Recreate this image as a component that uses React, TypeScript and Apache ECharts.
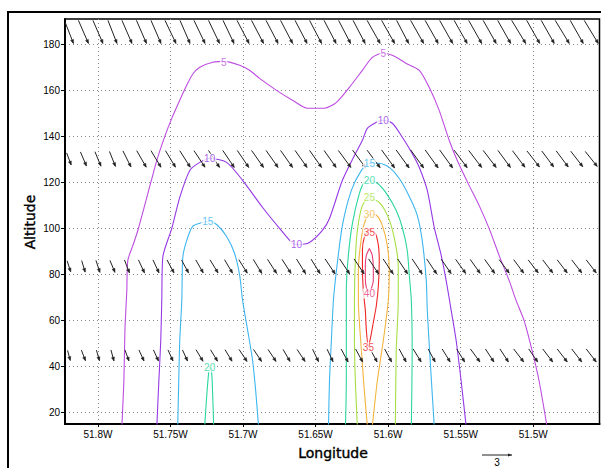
import { useEffect, useRef } from "react";
import * as echarts from "echarts";

// Axis ticks
const LON_TICKS = [-51.8, -51.75, -51.7, -51.65, -51.6, -51.55, -51.5];
const ALT_TICKS = [20, 40, 60, 80, 100, 120, 140, 160, 180];

// Contour lines, [longitude, altitude]
const C5 = [
  [-51.7835, 14], [-51.7821, 33.9], [-51.7814, 55.7], [-51.7801, 73], [-51.7794, 86.1],
  [-51.7759, 92.6], [-51.7725, 99.1], [-51.7663, 113.5], [-51.7594, 129.6], [-51.7539, 140],
  [-51.7491, 147.8], [-51.7436, 155.7], [-51.7388, 162.2], [-51.7347, 167], [-51.7298, 170],
  [-51.7209, 172.2], [-51.7127, 172.6], [-51.7023, 170.9], [-51.6955, 168.7], [-51.6886, 165.2],
  [-51.6769, 160], [-51.6659, 155.7], [-51.6556, 152.2], [-51.6439, 152.2], [-51.6356, 154.8],
  [-51.6267, 161.3], [-51.6177, 168.7], [-51.6109, 174.3], [-51.604, 176.1], [-51.5971, 175.2],
  [-51.5875, 171.7], [-51.5785, 168.7], [-51.5717, 161.3], [-51.5648, 151.3], [-51.5579, 138.3],
  [-51.5524, 129.6], [-51.5442, 118.7], [-51.5373, 110], [-51.5304, 100], [-51.5235, 88.3],
  [-51.5166, 77.4], [-51.5118, 68.7], [-51.5063, 60], [-51.5008, 47], [-51.496, 33.9],
  [-51.4905, 14],
];
const C10 = [
  [-51.7594, 14], [-51.758, 33.9], [-51.7567, 51.3], [-51.756, 68.7], [-51.7553, 87.4],
  [-51.7491, 100], [-51.7436, 113.5], [-51.7367, 125.2], [-51.7298, 128.7], [-51.723, 130.4],
  [-51.7113, 128.7], [-51.7003, 120.9], [-51.6865, 109.1], [-51.6748, 100], [-51.6659, 93.5],
  [-51.6624, 93], [-51.6542, 93.9], [-51.6453, 99.1], [-51.6404, 104.3], [-51.6315, 120.9],
  [-51.6232, 131.7], [-51.6177, 138.3], [-51.6143, 143.5], [-51.6081, 146.1], [-51.604, 147],
  [-51.5971, 145.7], [-51.5902, 139.6], [-51.5834, 132.6], [-51.5785, 126.5], [-51.573, 116.5],
  [-51.5682, 100.4], [-51.5634, 88.3], [-51.56, 77.4], [-51.5565, 64.3], [-51.5531, 51.3],
  [-51.5497, 33.9], [-51.5462, 14],
];
const C15_WEST = [
  [-51.745, 14], [-51.7443, 33.9], [-51.7436, 51.3], [-51.7422, 68.7], [-51.7415, 87.4],
  [-51.7388, 94.8], [-51.7347, 100.9], [-51.7278, 102.6], [-51.723, 103], [-51.7182, 101.7],
  [-51.7113, 96.5], [-51.7058, 89.1], [-51.7023, 79.6], [-51.7003, 68.7], [-51.6968, 55.7],
  [-51.6934, 42.6], [-51.6913, 29.6], [-51.6893, 14],
];
const C15_EAST = [
  [-51.6411, 14], [-51.6404, 33.9], [-51.6391, 51.3], [-51.6377, 68.7], [-51.6356, 81.7],
  [-51.6315, 101.3], [-51.6253, 116.5], [-51.6184, 125.2], [-51.6129, 128.3], [-51.6061, 128.3],
  [-51.5992, 126.5], [-51.5923, 121.7], [-51.5854, 113.9], [-51.5799, 105.7], [-51.5765, 94.8],
  [-51.5737, 77.4], [-51.573, 64.3], [-51.571, 42.6], [-51.5682, 14],
];
const C20_WEST = [
  [-51.7264, 14], [-51.725, 27.4], [-51.7237, 37], [-51.723, 39.6], [-51.7216, 37],
  [-51.7209, 27.4], [-51.7202, 14],
];
const C20_EAST = [
  [-51.6294, 14], [-51.6288, 33.9], [-51.6288, 55.7], [-51.6288, 73], [-51.6274, 88.3],
  [-51.6246, 102.2], [-51.6198, 115.2], [-51.6164, 120], [-51.6129, 120.9], [-51.6074, 119.6],
  [-51.6012, 115.2], [-51.5944, 107.8], [-51.5902, 100.4], [-51.5868, 90.4], [-51.5854, 79.6],
  [-51.584, 68.7], [-51.5834, 47], [-51.584, 14],
];
const C25 = [
  [-51.6212, 14], [-51.6226, 33.9], [-51.6232, 51.3], [-51.6232, 68.7], [-51.6226, 86.1],
  [-51.6212, 99.1], [-51.6177, 110], [-51.6129, 113], [-51.6061, 111.3], [-51.5999, 104.8],
  [-51.5957, 95.7], [-51.593, 83.9], [-51.593, 68.7], [-51.5944, 47], [-51.595, 14],
];
const C30 = [
  [-51.6143, 14], [-51.6164, 29.6], [-51.6184, 47], [-51.6205, 68.7], [-51.6205, 81.7],
  [-51.6191, 92.6], [-51.6164, 102.2], [-51.6129, 106.1], [-51.6081, 105.7], [-51.604, 101.3],
  [-51.6006, 92.6], [-51.5992, 81.7], [-51.5999, 68.7], [-51.6033, 51.3], [-51.6074, 33.9],
  [-51.6109, 14],
];
const C35 = [
  [-51.6129, 99.6], [-51.6088, 97.8], [-51.6067, 92.6], [-51.6061, 86.1], [-51.6067, 75.2],
  [-51.6081, 66.5], [-51.6102, 59.1], [-51.6122, 52.2], [-51.6136, 48.7], [-51.615, 55.7],
  [-51.6157, 64.3], [-51.6171, 73], [-51.6177, 83.9], [-51.6177, 90.4], [-51.6164, 96.1],
  [-51.6129, 99.6],
];
const C40 = [
  [-51.6129, 91.3], [-51.6109, 88.3], [-51.6102, 82.6], [-51.6102, 77.4], [-51.6116, 73.9],
  [-51.6129, 72.6], [-51.615, 74.3], [-51.6157, 78.3], [-51.6157, 83.9], [-51.615, 88.3],
  [-51.6129, 91.3],
];

// Contour labels: [text, longitude, altitude]
const CONTOUR_LABELS: [string, number, number][] = [
  ["5", -51.7133, 172.2], ["5", -51.6033, 176.1],
  ["10", -51.723, 130.4], ["10", -51.6631, 93], ["10", -51.6033, 147],
  ["15", -51.7243, 103], ["15", -51.6129, 128.3],
  ["20", -51.723, 39.6], ["20", -51.6129, 120.9],
  ["25", -51.6129, 113.5],
  ["30", -51.6129, 106.1],
  ["35", -51.6129, 98.3], ["35", -51.6136, 48.3],
  ["40", -51.6129, 71.7],
];

// Wind vectors: columns, row altitudes and components per row
const WIND_LONS = [
  -51.82, -51.81, -51.8, -51.79, -51.78, -51.77, -51.76, -51.75, -51.74, -51.73,
  -51.72, -51.71, -51.7, -51.69, -51.68, -51.67, -51.66, -51.65, -51.64, -51.63,
  -51.62, -51.61, -51.6, -51.59, -51.58, -51.57, -51.56, -51.55, -51.54, -51.53,
  -51.52, -51.51, -51.5, -51.49, -51.48, -51.47, -51.46,
];
const ROW_ALTS = [185.4, 130.2, 83.5, 44.8];
const U_ROWS = [
  [0.9, 1.0, 1.0, 0.9, 1.0, 1.0, 1.0, 1.1, 1.0, 1.1, 1.1, 1.1, 1.2, 1.2, 1.2, 1.2, 1.2, 1.2, 1.2,
   1.2, 1.2, 1.3, 1.3, 1.2, 1.3, 1.3, 1.3, 1.3, 1.3, 1.3, 1.3, 1.4, 1.3, 1.3, 1.4, 1.3, 1.4],
  [0.45, 0.6, 0.6, 0.6, 0.8, 0.95, 1.0, 1.0, 1.05, 1.1, 1.1, 1.15, 1.15, 1.2, 1.2, 1.2, 1.2, 1.2,
   1.2, 1.25, 1.3, 1.3, 1.3, 1.3, 1.3, 1.3, 1.3, 1.3, 1.3, 1.3, 1.25, 1.25, 1.25, 1.2, 1.2, 1.2, 1.2],
  [0.35, 0.35, 0.4, 0.5, 0.5, 0.6, 0.6, 0.7, 0.7, 0.75, 0.8, 0.8, 0.85, 0.85, 0.9, 0.9, 0.9, 0.9,
   1.0, 1.0, 1.0, 1.0, 1.0, 1.0, 1.0, 1.0, 1.0, 1.0, 1.0, 1.0, 1.0, 1.0, 1.0, 1.0, 1.0, 1.0, 1.0],
  [0.27, 0.4, 0.3, 0.3, 0.4, 0.5, 0.5, 0.5, 0.5, 0.7, 0.7, 0.7, 0.8, 0.8, 0.8, 0.7, 0.8, 0.6, 0.6,
   0.7, 0.7, 0.7, 0.7, 0.7, 0.8, 0.7, 0.8, 0.8, 0.95, 0.85, 0.85, 1.0, 0.9, 1.0, 1.0, 1.0, 1.0],
];
const W_ROWS = [
  [-2.3, -2.3, -2.3, -2.3, -2.3, -2.3, -2.3, -2.3, -2.3, -2.3, -2.3, -2.3, -2.3, -2.3, -2.3, -2.3,
   -2.3, -2.3, -2.3, -2.3, -2.3, -2.3, -2.3, -2.3, -2.3, -2.3, -2.3, -2.3, -2.3, -2.3, -2.3, -2.3,
   -2.3, -2.3, -2.3, -2.3, -2.3],
  [-1.2, -1.4, -1.45, -1.5, -1.6, -1.65, -1.65, -1.65, -1.65, -1.65, -1.7, -1.7, -1.7, -1.7, -1.7,
   -1.7, -1.7, -1.7, -1.7, -1.7, -1.75, -1.75, -1.8, -1.8, -1.8, -1.8, -1.8, -1.75, -1.7, -1.7,
   -1.7, -1.65, -1.6, -1.6, -1.6, -1.55, -1.5],
  [-1.1, -1.15, -1.2, -1.2, -1.3, -1.3, -1.3, -1.3, -1.3, -1.3, -1.3, -1.35, -1.35, -1.4, -1.4,
   -1.4, -1.45, -1.45, -1.5, -1.5, -1.5, -1.5, -1.5, -1.5, -1.5, -1.5, -1.45, -1.4, -1.4, -1.4,
   -1.35, -1.35, -1.3, -1.3, -1.3, -1.3, -1.3],
  [-1.0, -1.05, -1.05, -1.1, -1.1, -1.1, -1.1, -1.1, -1.1, -1.15, -1.15, -1.15, -1.2, -1.2, -1.2,
   -1.2, -1.2, -1.25, -1.25, -1.3, -1.3, -1.3, -1.3, -1.3, -1.3, -1.3, -1.3, -1.3, -1.3, -1.3,
   -1.3, -1.3, -1.3, -1.3, -1.3, -1.3, -1.3],
];
const REF_VECTOR = 3;

const LEVEL_COLORS: Record<string, string> = {
  "5": "#bd4ce0",
  "10": "#9538e6",
  "15": "#3db6f0",
  "20": "#2ad6a0",
  "25": "#a6e044",
  "30": "#f3b43e",
  "35": "#f02626",
  "40": "#e8407a",
};

const CONTOURS: [string, number[][]][] = [
  ["5", C5], ["10", C10], ["15", C15_WEST], ["15", C15_EAST], ["20", C20_WEST],
  ["20", C20_EAST], ["25", C25], ["30", C30], ["35", C35], ["40", C40],
];

const PX_PER_UNIT = 10;
const FONT = "'Liberation Sans', Arial, sans-serif";
const TITLE_FONT = "'DejaVu Sans', sans-serif";

function buildOption() {
  const windData: number[][] = [];
  ROW_ALTS.forEach((alt, r) => {
    WIND_LONS.forEach((lon, i) => windData.push([lon, alt, U_ROWS[r][i], W_ROWS[r][i]]));
  });

  const contourSeries = CONTOURS.map(([level, pts]) => ({
    type: "line",
    data: pts,
    symbol: "none",
    smooth: 0.25,
    lineStyle: { color: LEVEL_COLORS[level], width: 1.1 },
    z: 3,
    silent: true,
  }));

  const labelSeries = {
    type: "scatter",
    symbolSize: 1,
    itemStyle: { color: "rgba(0,0,0,0)" },
    z: 5,
    silent: true,
    data: CONTOUR_LABELS.map(([t, lon, alt]) => ({
      name: t,
      value: [lon, alt],
      label: {
        show: true,
        position: "inside",
        formatter: "{b}",
        color: LEVEL_COLORS[t],
        fontSize: 10,
        fontFamily: FONT,
        backgroundColor: "#fff",
        padding: [0, 1],
      },
    })),
  };

  const windSeries = {
    type: "custom",
    z: 4,
    silent: true,
    clip: true,
    data: windData,
    renderItem: (_params: any, api: any) => {
      const c = api.coord([api.value(0), api.value(1)]);
      const dx = api.value(2) * PX_PER_UNIT;
      const dy = -api.value(3) * PX_PER_UNIT;
      const x1 = c[0] - dx / 2, y1 = c[1] - dy / 2;
      const x2 = c[0] + dx / 2, y2 = c[1] + dy / 2;
      const a = Math.atan2(dy, dx);
      const hl = 4, hs = 0.4;
      return {
        type: "group",
        children: [
          { type: "line", shape: { x1, y1, x2, y2 }, style: { stroke: "#222", lineWidth: 1 } },
          {
            type: "polygon",
            shape: {
              points: [
                [x2, y2],
                [x2 - hl * Math.cos(a - hs), y2 - hl * Math.sin(a - hs)],
                [x2 - hl * Math.cos(a + hs), y2 - hl * Math.sin(a + hs)],
              ],
            },
            style: { fill: "#222", stroke: "#222", lineWidth: 0.5 },
          },
        ],
      };
    },
  };

  const refLen = REF_VECTOR * PX_PER_UNIT;
  const refX = 482, refY = 455;

  return {
    animation: false,
    backgroundColor: "#fff",
    grid: {
      left: 65, right: 1.5, top: 19, bottom: 44,
      show: true, borderColor: "#000", borderWidth: 1.5, backgroundColor: "#fff",
    },
    xAxis: {
      type: "value",
      min: -51.8227,
      max: -51.4543,
      axisLine: { show: true, onZero: false, lineStyle: { color: "#000", width: 2 } },
      axisTick: { show: true, customValues: LON_TICKS, length: 3, lineStyle: { color: "#000" } },
      axisLabel: {
        customValues: LON_TICKS,
        formatter: (v: number) => `${Number(Math.abs(v).toFixed(2))}W`,
        color: "#000", fontSize: 10, fontFamily: FONT, margin: 5,
      },
      splitLine: { show: true, lineStyle: { color: "#888", type: [1, 3], width: 1 } },
    },
    yAxis: {
      type: "value",
      min: 15,
      max: 191,
      axisLine: { show: true, onZero: false, lineStyle: { color: "#000", width: 2 } },
      axisTick: { show: true, customValues: ALT_TICKS, length: 4, lineStyle: { color: "#000" } },
      axisLabel: {
        customValues: ALT_TICKS,
        color: "#000", fontSize: 10, fontFamily: FONT, margin: 5,
      },
      splitLine: { show: true, lineStyle: { color: "#888", type: [1, 3], width: 1 } },
    },
    graphic: [
      {
        type: "rect",
        shape: { x: 8, y: 12, width: 700, height: 600 },
        style: { fill: "none", stroke: "#000", lineWidth: 2 },
        silent: true,
      },
      {
        type: "text",
        x: 30, y: 222, rotation: Math.PI / 2,
        style: {
          text: "Altitude", fill: "#000", stroke: "#000", lineWidth: 0.4,
          fontSize: 14, fontFamily: TITLE_FONT, align: "center", verticalAlign: "middle",
        },
      },
      {
        type: "text",
        x: 333, y: 453,
        style: {
          text: "Longitude", fill: "#000", stroke: "#000", lineWidth: 0.4,
          fontSize: 14, fontFamily: TITLE_FONT, align: "center", verticalAlign: "middle",
        },
      },
      {
        type: "line",
        shape: { x1: refX, y1: refY, x2: refX + refLen, y2: refY },
        style: { stroke: "#222", lineWidth: 1 },
      },
      {
        type: "polygon",
        shape: { points: [[refX + refLen, refY], [refX + refLen - 4, refY - 1.6], [refX + refLen - 4, refY + 1.6]] },
        style: { fill: "#222" },
      },
      {
        type: "text",
        x: refX + refLen / 2, y: 462,
        style: {
          text: String(REF_VECTOR), fill: "#000", fontSize: 10, fontFamily: FONT,
          align: "center", verticalAlign: "middle",
        },
      },
    ],
    series: [...contourSeries, windSeries, labelSeries],
  };
}

export default function App() {
  const ref = useRef<HTMLDivElement>(null);
  useEffect(() => {
    document.body.style.margin = "0";
    const chart = echarts.init(ref.current!, null, { renderer: "svg" });
    chart.setOption(buildOption() as any);
    return () => chart.dispose();
  }, []);
  return (
    <div
      ref={ref}
      style={{ position: "absolute", left: 0, top: 0, width: 601, height: 468, background: "#fff" }}
    />
  );
}
